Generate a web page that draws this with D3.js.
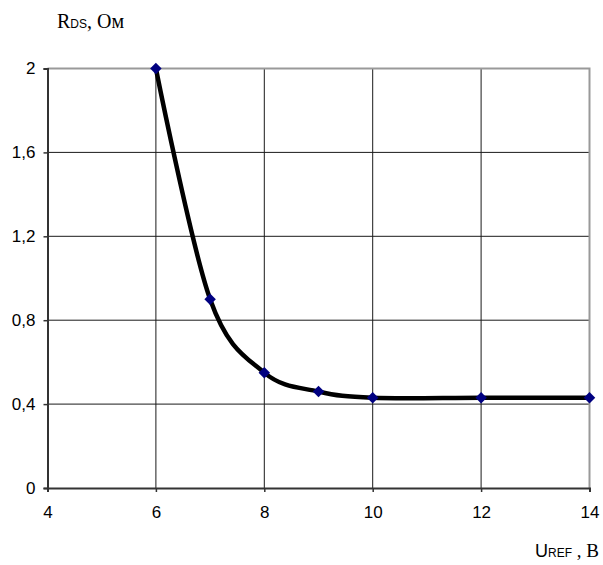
<!DOCTYPE html>
<html>
<head>
<meta charset="utf-8">
<script src="https://cdn.jsdelivr.net/npm/d3@7"></script>
<style>
  body { margin: 0; background: #fff; }
  text.title tspan.s { font-family: "Liberation Serif", serif; }
  text.title tspan.a { font-family: "Liberation Sans", sans-serif; }
</style>
</head>
<body>
<svg width="603" height="565"></svg>
<script>
// U_REF, V
const uRef = [6, 7, 8, 9, 10, 12, 14];
// R_DS, Ohm
const rDs = [2, 0.9, 0.55, 0.46, 0.43, 0.43, 0.43];

const xTicks = [4, 6, 8, 10, 12, 14];
const yTicks = [0, 0.4, 0.8, 1.2, 1.6, 2];

const sans = "'Liberation Sans', Arial, sans-serif";

const svg = d3.select('svg');

const x = d3.scaleLinear().domain([4, 14]).range([47.5, 589.5]);
const y = d3.scaleLinear().domain([0, 2]).range([488, 68.5]);

const fmt = d => d3.format('.1~f')(d).replace('.', ',');

// grid
svg.append('g')
  .selectAll('line')
  .data(yTicks.slice(1, -1))
  .enter()
  .append('line')
  .attr('x1', x(4)).attr('x2', x(14))
  .attr('y1', d => y(d)).attr('y2', d => y(d))
  .attr('stroke', '#1a1a1a')
  .attr('stroke-width', 1);

svg.append('g')
  .selectAll('line')
  .data(xTicks.slice(1, -1))
  .enter()
  .append('line')
  .attr('x1', d => x(d)).attr('x2', d => x(d))
  .attr('y1', y(0)).attr('y2', y(2))
  .attr('stroke', '#1a1a1a')
  .attr('stroke-width', 1);

// top and right frame
svg.append('path')
  .attr('d', `M${x(4)},${y(2)}H${x(14)}V${y(0)}`)
  .attr('fill', 'none')
  .attr('stroke', '#999')
  .attr('stroke-width', 2);

// axes
const xAxis = svg.append('g')
  .attr('transform', `translate(0, ${y(0)})`)
  .call(d3.axisBottom(x).tickValues(xTicks).tickSize(4).tickPadding(14).tickFormat(d3.format('d')));

const yAxis = svg.append('g')
  .attr('transform', `translate(${x(4)}, 0)`)
  .call(d3.axisLeft(y).tickValues(yTicks).tickSize(4).tickPadding(8).tickFormat(fmt));

[xAxis, yAxis].forEach(a => {
  a.attr('font-size', 17).attr('font-family', sans);
  a.select('.domain').attr('stroke', '#333').attr('stroke-width', 2);
  a.selectAll('.tick line').attr('stroke', '#333').attr('stroke-width', 1.5);
  a.selectAll('.tick text').attr('fill', '#000');
});

// curve
const line = d3.line()
  .x((d, i) => x(uRef[i]))
  .y(d => y(d))
  .curve(d3.curveCardinal.tension(0));

svg.append('path')
  .datum(rDs)
  .attr('d', line)
  .attr('fill', 'none')
  .attr('stroke', '#000')
  .attr('stroke-width', 4.5)
  .attr('stroke-linejoin', 'round');

svg.append('g')
  .selectAll('path')
  .data(rDs)
  .enter()
  .append('path')
  .attr('d', d3.symbol(d3.symbolSquare, 66))
  .attr('transform', (d, i) => `translate(${x(uRef[i])}, ${y(d)}) rotate(45)`)
  .attr('fill', '#000080');

// axis titles
const yTitle = svg.append('text')
  .attr('class', 'title')
  .attr('x', 57)
  .attr('y', 28);
yTitle.append('tspan').attr('class', 's').attr('font-size', 20).text('R');
yTitle.append('tspan').attr('class', 'a').attr('font-size', 12).text('DS');
yTitle.append('tspan').attr('class', 's').attr('font-size', 20).text(', Ом');

const xTitle = svg.append('text')
  .attr('class', 'title')
  .attr('x', 599)
  .attr('y', 557)
  .attr('text-anchor', 'end');
xTitle.append('tspan').attr('class', 'a').attr('font-size', 18).text('U');
xTitle.append('tspan').attr('class', 'a').attr('font-size', 12).text('REF');
xTitle.append('tspan').attr('class', 's').attr('font-size', 19).text(' , В');
</script>
</body>
</html>
